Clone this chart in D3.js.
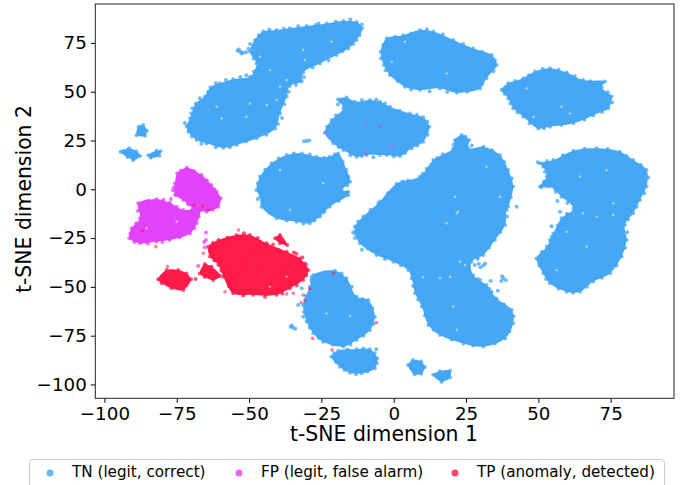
<!DOCTYPE html>
<html><head><meta charset="utf-8">
<script src="https://cdnjs.cloudflare.com/ajax/libs/d3/7.8.5/d3.min.js"></script>
<style>html,body{margin:0;padding:0;background:#fff;overflow:hidden}svg{display:block}text{font-family:"DejaVu Sans",sans-serif;fill:#000}</style>
</head><body><svg id="c" width="691" height="485"></svg>
<script>
// Approximation: the reference has thousands of dots, too many to read one by one.
// Each cluster is a silhouette outline, plus hand-placed dots.
// gapFlecks marks some of the light gaps visible between dots in the reference.
const xTicks=[-100,-75,-50,-25,0,25,50,75];
const yTicks=[-100,-75,-50,-25,0,25,50,75];
const seriesNames=["TN (legit, correct)","FP (legit, false alarm)","TP (anomaly, detected)"];
const seriesColors=["#42a5f5","#e040fb","#ff1744"];

const tnOutlines=[
[[-71.6,32.4],[-70.4,36.4],[-68.4,44],[-65.3,47.5],[-63.3,52.3],[-60.1,54.3],[-55.5,56.4],[-49.7,57.7],[-48.3,60.3],[-47.4,64.5],[-49.7,70.5],[-48,76.5],[-45.1,80.8],[-40.5,81.6],[-35.9,82.5],[-30.1,83.7],[-23.2,85],[-17.4,86.2],[-12.8,85.7],[-10.9,82.5],[-12.8,76.5],[-15.7,72.2],[-19.8,68.8],[-25.5,64.5],[-31.3,59.8],[-31.8,55.2],[-35.9,52.9],[-37,47.5],[-39.3,38.9],[-41,31.2],[-47.4,26.1],[-54.3,22.7],[-58.9,21.3],[-64.7,23.6],[-68.1,25.3],[-71,29.5]],
[[-23.8,29],[-21.5,35.5],[-17.4,41.5],[-19.2,46.1],[-16.3,47],[-13.4,44.9],[-8.2,45.8],[-4.7,44.9],[-1.3,42.3],[5.6,38.9],[10.2,36.9],[12.3,32.1],[10.2,24.4],[6.2,21],[2.2,17],[-2.4,17.6],[-4.8,17.6],[-9.4,17.6],[-12.8,16.7],[-17.4,20.1],[-20.9,23.6]],
[[-4.5,70.5],[-2.4,77.4],[3.3,79],[9.1,81.6],[13.7,80.8],[20.6,76.5],[27.5,72.2],[33.9,68.8],[35.6,63.7],[32.1,56.9],[29.8,51.7],[21.8,49.5],[16,51.7],[9.1,50.9],[3.9,52.6],[-1.3,58.6],[-3.4,63.7]],
[[37.3,50.9],[39.6,54.3],[44.8,56.9],[48.8,60.3],[54,62],[59.8,59.8],[65.5,56],[73,55.2],[71.9,52.3],[75.3,47.5],[74.2,41.5],[69,38],[62.1,33.8],[54,32.1],[50,31.2],[44.8,37.2],[41.3,41.5],[39.6,46.6]],
[[50.6,13.3],[55.2,15],[62.1,19.8],[70.1,21],[78.2,19.3],[82.8,15],[87.4,9.9],[87.4,1.4],[85.1,-5.5],[82.8,-12.3],[79.9,-18.3],[80.5,-26],[78.8,-34.5],[74.8,-43],[69,-47.3],[64.4,-52.5],[59.8,-52.5],[54,-48.2],[51.7,-43],[49.4,-35.4],[52.9,-29.4],[55.2,-22.6],[58,-14.9],[62.1,-9.8],[58,-3.8],[54,1.4],[50.6,1.4],[52.9,6.5],[51.7,11.6]],
[[-13.4,-19.1],[-10.5,-14],[-5.3,-7.2],[-4.7,-6.3],[1,2.9],[9.1,6.5],[13.7,15],[20.6,21],[21.2,25.3],[23.5,27.8],[26.1,25.3],[25.8,21],[31,21.8],[36.7,17.6],[39.6,9.9],[41.3,1.4],[39.6,-8.9],[39,-10.6],[38.5,-18.3],[35,-26],[31,-33.7],[26.9,-37.1],[27.5,-44],[32.1,-49],[35.6,-55.9],[40.8,-61.8],[41.3,-68.7],[38.5,-76.4],[31,-80.6],[24.1,-79],[16,-74.7],[12,-69.5],[9.7,-60.1],[7.4,-53.3],[6.2,-45.6],[5,-41.4],[-0.1,-37.1],[-5.9,-33.7],[-11.7,-27.7],[-13.4,-22.6]],
[[-47.4,-0.4],[-46.2,6.5],[-42.2,13.3],[-37,17.6],[-31.8,18.4],[-26.7,16.7],[-22.1,16.7],[-19.2,18.4],[-16.3,9.9],[-15.1,3.9],[-18,-0.4],[-15.7,-1.2],[-15.7,-2.9],[-22.1,-8.9],[-25.5,-14],[-29,-17.4],[-33.6,-16.6],[-40.5,-14.9],[-45.7,-8.9],[-46.2,-3.8]],
[[-31.3,-59.3],[-29,-49.9],[-27.8,-43.9],[-20.3,-41.7],[-16.3,-45.6],[-12.8,-55],[-8.8,-56.7],[-6.5,-65.3],[-8.2,-72.1],[-12.8,-77.2],[-17.4,-80.6],[-24.4,-78.1],[-27.8,-73.8],[-30.1,-67.8]],
[[-21.5,-85.8],[-19.2,-82.7],[-12.8,-82],[-8.2,-82],[-5.7,-86.6],[-6.5,-91.7],[-11.1,-94.3],[-15.1,-94],[-18.6,-90.9]],
[[-88.9,27.7],[-88.2,32],[-86.6,33],[-85.3,30],[-86,27.5]],
[[-94.4,19.3],[-91.5,21],[-89,19.5],[-87.7,17],[-90,14.9],[-92,16.5]],
[[-84.8,17.5],[-82,19.8],[-80.6,19.5],[-81,17.2],[-84,16.2]],
[[5,-90],[6.6,-87.5],[9.5,-88.2],[10.8,-91],[9.5,-94.5],[7.2,-94.8]],
[[13.7,-95],[16,-93.3],[19.5,-93],[19.5,-96.5],[16.5,-98.6]]
];
const tnPoints=[
[-70,30],[-66,28],[-62,24],[-56,25],[-50,27],[-44,29],[-42,35],[-41,41],[-39,45],[-38,51],[-34,55],[-33,58],[-43,56],[-51,56],[-60,52],[-64,49],[-67,42],[-70,34],[-65,36],[-60,31],[-54,34],[-48,38],[-44,47],[-56,44],[-62,41],[-50,49],[-48,31],[-56,29],[-63,33],[-45,64],[-42,72],[-46,75],[-38,79],[-30,80],[-22,83],[-15,84],[-12,80],[-16,76],[-21,71],[-27,68],[-32,63],[-37,60],[-43,61],[-35,72],[-27,75],[-20,78],[-39,67],
[-54,71],[-53,70.5],[-52,70],[-51,70.2],[-53.5,71.6],[-52.6,69.6],
[-22,31],[-20,27],[-18,22],[-12,19],[-6,19],[0,19],[5,23],[9,27],[10,33],[4,37],[-2,41],[-10,43],[-16,39],[-18.5,45],[-16,45.5],[-10,30],[-4,35],[2,28],[-14,33],[-7,24],
[-3,68],[-1,74],[4,77],[10,79],[16,78],[24,73],[30,70],[34,65],[32,60],[28,54],[21,51],[14,53],[6,54],[1,58],[8,66],[16,64],[23,62],[0,64],[12,72],
[38.5,51],[42,54],[48,58],[55,60],[62,57],[69,54],[71.5,54.6],[73,47],[72,42],[65,37],[57,34],[49,33],[45,39],[42,44],[50,47],[58,48],[65,45],[48,40],[55,40],
[52,12],[56,14],[63,18],[71,19],[79,17],[85,11],[86,3],[83,-6],[80,-15],[79,-26],[76,-37],[71,-45],[65,-50],[58,-50],[54,-45],[51,-37],[54,-30],[57,-21],[60,-13],[56,0],[52,3],[54,8],[65,5],[74,8],[68,-8],[72,-20],[64,-28],[62,-38],[70,-32],[78,2],[53,1.5],[51,1],[57.5,-11.5],[56.6,-6],[54.6,-19],[54.6,-24.3],
[-12,-21],[-9,-15],[-3,-6],[3,4],[10,8],[15,16],[21,19],[22,24],[24,26.5],[25,23],[32,20],[37,14],[40,5],[39,-6],[37,-19],[33,-28],[29,-35],[30,-40],[29,-46],[33,-51],[38,-59],[40,-66],[37,-74],[30,-78],[23,-76],[16,-72],[13,-66],[11,-58],[8,-50],[7,-43],[0,-35],[-6,-31],[-10,-26],[5,-20],[15,-5],[25,5],[30,-15],[18,-25],[5,-32],[22,-55],[30,-62],[20,-68],[15,-50],
[28,-38.8],[29.4,-38.2],[31,-39],[31.6,-38],[42.5,-9],[37.5,-44.5],[37.9,-45.6],[38.8,-46.6],[37.2,-47],[33.5,-47],[36,-52],[-11,-31],[-3,-33],[-14,-22],
[-46,-1],[-44,7],[-40,13],[-34,16],[-27,15],[-21,16],[-17,9],[-16,2],[-18,-3],[-24,-10],[-29,-15],[-36,-15],[-42,-12],[-45,-6],[-35,5],[-28,-2],[-38,-5],[-25,7],[-30.1,24.8],[-29.2,25],[-31,24.6],
[-30,-58],[-28,-48],[-22,-43.5],[-17,-47],[-13,-57],[-9,-60],[-8,-68],[-12,-75],[-18,-78],[-25,-75],[-29,-68],[-20,-58],[-22,-68],[-15,-68],[-33,-59.3],[-31.3,-65.3],[-31.8,-50.7],[-28.4,-45.1],[-30.1,-38.8],[-29.8,-63],
[-20,-86],[-15,-84],[-9,-84],[-6.5,-88],[-8,-91],[-13,-92],[-17,-90],[-13,-88],[-6,-82],
[-35.6,-70.4],[-34.8,-71],[-34,-71.4],[-35.2,-69.8],[-87.5,29],[-87,31],[-92,18],[-90,16],[-88.5,18],[-83,18],[-81.5,18.3],
[6,-91],[8,-89],[9.5,-92],[15,-96],[18,-94.5],[16.5,-96.5]
];
const tnFringe=[
[-72.2,34],[-70,39],[-69.6,41.5],[-67,46.6],[-64.2,50],[-61.5,54.5],[-58,56],[-53,57.6],[-51,58.5],[-47.6,57],[-47,62],[-48.4,67],[-50.2,72],[-49.6,74.4],[-46.6,79],[-43,81.9],[-38,82.3],[-33,83.6],[-27,84.2],[-26,85],[-20,85.9],[-15,87],[-11,84.5],[-11.8,79],[-14,74.4],[-17.7,70.7],[-22.5,66],[-28,62.4],[-31,57.6],[-33.8,53.5],[-36.3,50],[-37.8,43.6],[-38.6,36.5],[-40,33.5],[-44,28],[-51,24.5],[-56.6,21.5],[-61.5,21.5],[-66.5,23.4],[-69.8,27],
[-23,32],[-20,38],[-19.3,43.5],[-11,45.7],[-6,46],[-3,43.9],[2,40.2],[8,38.2],[11.6,34.6],[11.7,28],[8.2,22.5],[4,18.6],[0,16.9],[-7,16.4],[-11,17],[-15,17.5],[-19,21.6],
[-4.4,67],[-3.6,74],[0.5,78.2],[6,79.8],[11.5,82],[17,79.4],[24,74.4],[30.6,70.5],[35,66],[34.5,60.5],[30.6,54],[25.5,50],[18.5,49.8],[12.4,50.3],[6,51.2],[1.3,55.6],[-2.8,61],
[38.4,49],[42,55.5],[46.7,58.5],[51.5,61.6],[57,61.3],[62.6,58],[68,55.4],[70.3,54.4],[74,49.7],[75.5,44.5],[72,39.6],[66,35.7],[58,33],[52,31.3],[47,33.8],[42.8,39.3],[40.3,44],
[53,14.5],[58.5,17.5],[66,20.8],[74,20.7],[80.5,17],[85.4,12.4],[88,6],[86.6,-2],[84,-9],[81,-15.5],[80.7,-22],[80,-30],[77,-39],[72,-45.3],[66.8,-50],[62,-53],[57,-51],[52.7,-46],[50.3,-39],[51.3,-32],[54,-26],[56.7,-18.5],[60,-12.5],[60,-7],[56,-1.2],[52,1.8],[52,4],[52.3,9],[49.8,13.8],
[-12.3,-16.5],[-8,-10.5],[-2,-2],[5,4.5],[11.4,10.5],[17,18],[20.7,23],[24.8,27],[27,22.4],[34,20],[38.2,14],[40.8,5.5],[40.5,-4],[39.2,-14],[36.8,-22],[33,-30],[29,-35.7],[29.8,-46.5],[33.8,-52.5],[38,-59],[41.4,-65],[40,-72.7],[35,-79],[27.5,-80],[20,-77],[13.8,-72],[10.8,-64.7],[8.5,-56.5],[6.7,-49.5],[2.5,-39],[-3,-35.7],[-9,-30.5],[-13.4,-25],
[-47,-5],[-47,3],[-44.4,10],[-39.8,15.8],[-34.5,18.3],[-29,17.8],[-24,16.2],[-20.4,18],[-17.6,14],[-15.7,6.6],[-19,-6],[-24,-11.6],[-27.4,-16],[-31.2,-17.5],[-37,-16],[-43,-12],
[-30.4,-54.5],[-28.5,-46.8],[-24,-42.6],[-18,-43.2],[-14.5,-50],[-10.8,-56.2],[-7.4,-61],[-7,-69],[-10.4,-75],[-15,-79.5],[-21,-79.6],[-26,-76.2],[-29,-71],[-31,-63],
[-20.6,-84],[-16,-82.1],[-10.5,-81.6],[-6.6,-84],[-5.8,-89],[-9,-93.4],[-13,-94.8],[-17,-92.6],[-20,-88.4]
];
const fpOutlines=[
[[-74.8,8.2],[-71.6,11.1],[-66.4,7.3],[-63,2.2],[-59.8,-4.6],[-60.6,-8.9],[-64.7,-11.5],[-69.3,-9.8],[-72.7,-5.5],[-75.6,-2.9],[-75.6,3.1]],
[[-88.3,-7.2],[-82,-5.1],[-77.4,-6.9],[-72.7,-10.6],[-67,-10.3],[-68.1,-17.4],[-70.4,-22.6],[-77.4,-26],[-82,-26.8],[-87.7,-27.7],[-91.4,-25.1],[-90.6,-20],[-87.7,-14.9]]
];
const fpPoints=[
[-74,6],[-70,9],[-66,5],[-62,0],[-61,-6],[-65,-9],[-71,-7],[-74,-1],[-69,2],[-67,-3],[-76.3,-0.5],[-77,-5],
[-73.5,9.6],[-69,9.4],[-64.6,4.6],[-61.2,-1.3],[-62.6,-10.4],[-67,-10.8],[-71,-7.6],[-76,1],
[-87,-8],[-83,-7],[-78,-8],[-72,-12],[-68,-13],[-70,-20],[-76,-24],[-83,-25],[-89,-26],[-90,-22],[-86,-17],[-80,-16],[-74,-18],[-84,-21],[-78,-12],
[-85,-5.9],[-79.6,-5.4],[-75,-9],[-69.8,-10.7],[-67.4,-14],[-69,-20],[-74,-24.6],[-80,-27],[-85,-27.8],[-89.6,-27],[-91,-22.6],[-89,-17.4],[-88.4,-11],
[-64.9,-22.2],[-64.9,-26],[-65.3,-29.7],[-67.6,-39.3],[-65.5,-27]
];
const tpOutlines=[
[[-64.1,-29.4],[-60.6,-26],[-54.3,-23.4],[-49.7,-23.4],[-43.9,-27.7],[-37,-32],[-32.4,-35.4],[-29.5,-41.4],[-31.3,-46.5],[-35.9,-50.7],[-40.5,-54.1],[-48.6,-54.1],[-55.5,-53.3],[-58.9,-44.8],[-60.6,-38.8],[-63.5,-34.5]],
[[-81.4,-46.1],[-78.5,-41.4],[-74.5,-41.4],[-71.6,-43.1],[-70.1,-46.1],[-72.7,-51.6],[-76.8,-50.7],[-80.2,-48.2]],
[[-67,-43.1],[-65.3,-38.3],[-63,-39.6],[-60,-44.4],[-62.4,-46.5],[-65.3,-45]],
[[-41,-25.1],[-39.3,-23.4],[-36.8,-28.5],[-39.3,-27.7]]
];
const tpPoints=[
[-62,-30],[-58,-27],[-52,-25],[-46,-27],[-40,-31],[-35,-35],[-32,-42],[-36,-48],[-42,-52],[-50,-52],[-56,-50],[-58,-42],[-60,-36],[-52,-38],[-45,-42],[-38,-40],[-48,-32],[-54,-45],
[-34.5,-32.4],[-31.6,-35],[-56.8,-48],[-62.4,-27.4],[-57.5,-24.8],[-51.8,-22.5],[-47,-25],[-41.7,-28.3],[-33.6,-33],[-30.6,-38],[-30.2,-44],[-33.5,-49.3],[-38.5,-53.4],[-44.5,-55],[-52,-54.4],[-57,-49.6],[-59.6,-41.5],[-62,-36.4],
[-79,-45],[-76,-43],[-73,-45],[-75,-48],[-71.5,-47],[-66,-42],[-63,-43],[-68.5,-46],[-62,-45.5],[-40,-25]
];
const strayPoints=[
[[-9.4,34.1],1],[[-4.8,32.1],1],[[-23.4,29.2],1],[[-9.4,18.1],1],[[-0.4,21.8],1],
[[-6,-68.3],2],[[-21.3,-82.3],2],[[-28,-76.4],2],[[-30.7,-56.7],2],[[-31.3,-54.2],2],[[-34.7,-53.3],2],[[-37,-53.6],2],[[-53.7,-20.9],2],[[-86.9,-21.2],2],[[-82.2,-29.4],2],[[-78.2,-39.6],2],[[-58.3,-52.5],2],[[-65.8,-32.8],2],[[-29,-51],2],[[-20.8,-43],2],[[-64,-10.5],2],[[-69,-8.2],2],[[-66,-8.5],2],[[-32,-58],2]
];
const gapFlecks=[
[-49.7,44],[-59.5,36.4],[-43.9,43.2],[-40.5,45.8],[-30.7,66.3],[-21.5,75.6],[-42.8,61.1],[-37,56],[-31.3,71.4],[-46.2,68],[-61.2,42.3],[-50.9,37.2],[-39.3,52.6],
[18.3,59.4],[3.9,75.6],[-0.7,65.4],[46,51.7],[58,42.3],[48.3,37.2],[61,38.9],[73.6,9.9],[64.4,6.5],[21.2,-3.8],[32.1,11.6],[36.7,-3.8],[22.3,-11.5],[75.9,-7.2],[65.5,-12.3],
[18.3,-17.4],[21.8,-12.3],[22.9,-37.1],[16,-45.6],[10.2,-45.1],[19.5,-44.8],[24.6,-38.8],[70.2,-14],[75.9,-13.2],[59.8,-21.7],[66.7,-29.4],[56.3,-41.4],[20.6,-60.1],[21.8,-72.1],
[-15.1,-64.9],[-23.2,-63.6],[-35.9,-10.6],[-39.3,9.9],[-24.4,3.1],[-85.4,-20],[-75,-16.6],[-42.8,-49.9],[-37,-44.8]
];

const W=691,H=485,L=95.3,R=674,T=4,B=398.3;
const x=d3.scaleLinear().domain([-103.15,96.9]).range([L,R]);
const y=d3.scaleLinear().domain([-107.1,94.95]).range([B,T]);
const svg=d3.select("#c");
const line=d3.line().x(d=>x(d[0])).y(d=>y(d[1])).curve(d3.curveCatmullRomClosed.alpha(0.5));
const plot=svg.append("g");
[[tnOutlines,tnPoints.concat(tnFringe)],[fpOutlines,fpPoints],[tpOutlines,tpPoints]].forEach(([outlines,points],i)=>{
  const g=plot.append("g");
  g.selectAll("path").data(outlines).join("path").attr("d",line).attr("fill",seriesColors[i]).attr("fill-opacity",0.98);
  g.selectAll("circle").data(outlines.flat().concat(points)).join("circle")
    .attr("cx",d=>x(d[0])).attr("cy",d=>y(d[1])).attr("r",2).attr("fill",seriesColors[i]).attr("fill-opacity",0.75);
});
plot.append("g").selectAll("circle").data(gapFlecks).join("circle")
  .attr("cx",d=>x(d[0])).attr("cy",d=>y(d[1])).attr("r",1.2).attr("fill","#fff").attr("fill-opacity",0.55);
plot.append("g").selectAll("circle").data(strayPoints).join("circle")
  .attr("cx",d=>x(d[0][0])).attr("cy",d=>y(d[0][1])).attr("r",1.8).attr("fill",d=>seriesColors[d[1]]).attr("fill-opacity",0.55);
const xa=svg.append("g").attr("transform",`translate(0,${B})`).call(d3.axisBottom(x).tickValues(xTicks).tickSize(4.5).tickPadding(4).tickFormat(d=>String(d).replace("-","\u2212")));
const ya=svg.append("g").attr("transform",`translate(${L},0)`).call(d3.axisLeft(y).tickValues(yTicks).tickSize(4.5).tickPadding(4).tickFormat(d=>String(d).replace("-","\u2212")));
[xa,ya].forEach(a=>{a.select(".domain").remove();a.selectAll("text").style("font-size","18.3px").attr("font-family",null);a.selectAll("line").attr("stroke","#000").attr("stroke-width",1);});
svg.append("rect").attr("x",L).attr("y",T).attr("width",R-L).attr("height",B-T).attr("fill","none").attr("stroke","#222").attr("stroke-width",1);
svg.append("text").attr("x",384).attr("y",441).attr("text-anchor","middle").style("font-size","20.4px").text("t-SNE dimension 1");
svg.append("text").attr("transform","translate(31,199) rotate(-90)").attr("text-anchor","middle").style("font-size","20.4px").text("t-SNE dimension 2");
svg.append("rect").attr("x",29.5).attr("y",459.5).attr("width",635).attr("height",40).attr("rx",3).attr("fill","#fff").attr("stroke","#ccc");
const legendMarkerX=[50,239,455],legendTextX=[72,261,477];
seriesNames.forEach((n,i)=>{
  svg.append("circle").attr("cx",legendMarkerX[i]).attr("cy",473).attr("r",3.5).attr("fill",seriesColors[i]).attr("fill-opacity",0.8);
  svg.append("text").attr("x",legendTextX[i]).attr("y",477).style("font-size","15.2px").text(n);
});
</script></body></html>
